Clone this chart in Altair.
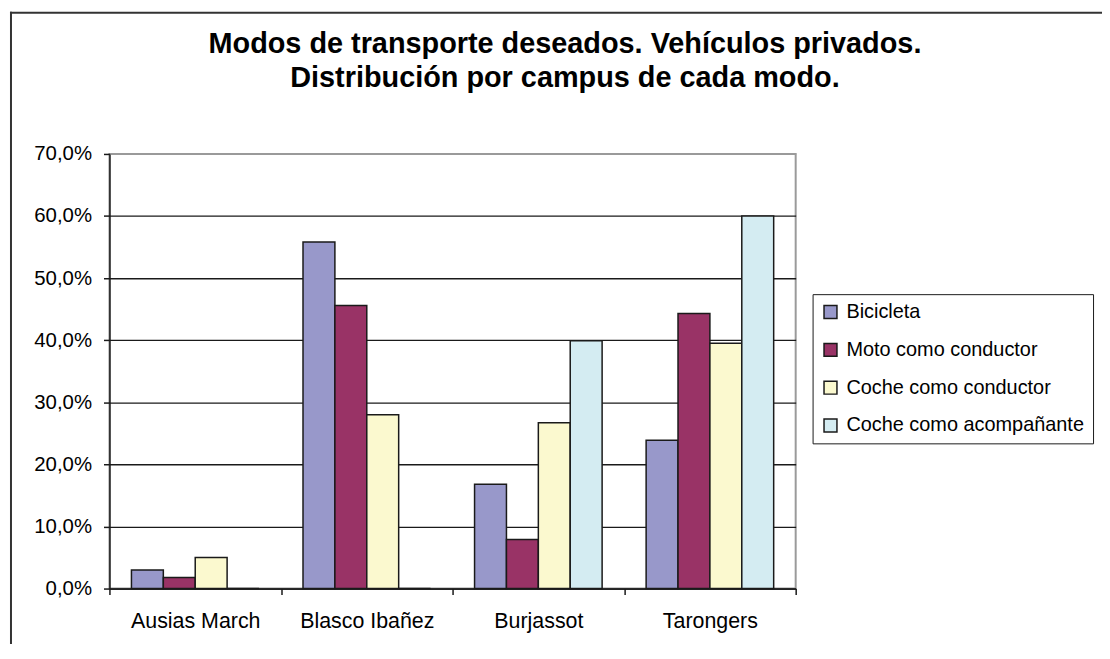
import altair as alt
import pandas as pd

# ---- data ----
campus = ["Ausias March", "Blasco Ibañez", "Burjassot", "Tarongers"]
series = ["Bicicleta", "Moto como conductor", "Coche como conductor", "Coche como acompañante"]
bicicleta = [3.0, 55.8, 16.8, 23.9]
moto_conductor = [1.8, 45.6, 7.9, 44.3]
coche_conductor = [5.0, 28.0, 26.7, 39.5]
coche_acompanante = [0.0, 0.0, 39.9, 60.0]
y_ticks = [0, 10, 20, 30, 40, 50, 60, 70]
colors = ["#9898CA", "#993366", "#FBF9CF", "#D4ECF2"]
title_lines = ["Modos de transporte deseados. Vehículos privados.",
               "Distribución por campus de cada modo."]

rows = []
for s, vals in zip(series, [bicicleta, moto_conductor, coche_conductor, coche_acompanante]):
    for c, v in zip(campus, vals):
        rows.append({"campus": c, "modo": s, "valor": v})
df = pd.DataFrame(rows)

W, H = 690, 437
FONT = "Liberation Sans"
DARK = "#1a1a1a"

bars = alt.Chart(df).mark_bar(stroke=DARK, strokeWidth=1.5).encode(
    x=alt.X("campus:N", sort=campus, title=None,
            scale=alt.Scale(paddingInner=0, paddingOuter=0),
            axis=alt.Axis(tickBand="extent", labelAngle=0, labelFontSize=21.5,
                          labelPadding=16, tickSize=6, tickColor=DARK, tickWidth=1.5,
                          domainColor=DARK, domainWidth=1.5, grid=False,
                          labelColor="black", labelFont=FONT)),
    xOffset=alt.XOffset("modo:N", sort=series,
                        scale=alt.Scale(paddingInner=0, paddingOuter=0.69)),
    y=alt.Y("valor:Q", title=None,
            scale=alt.Scale(domain=[0, 70], nice=False),
            axis=alt.Axis(values=y_ticks,
                          labelExpr="replace(format(datum.value, '.1f'), '.', ',') + '%'",
                          labelFontSize=20.5, labelPadding=12, tickSize=6,
                          tickColor=DARK, tickWidth=1.5, domainColor=DARK, domainWidth=1.5,
                          grid=True, gridWidth=1.3,
                          gridColor={"condition": {"test": "datum.value >= 70", "value": "#9a9a9a"},
                                     "value": DARK},
                          labelColor="black", labelFont=FONT)),
    color=alt.Color("modo:N", sort=series,
                    scale=alt.Scale(domain=series, range=colors),
                    legend=alt.Legend(title=None, orient="none", legendX=707, legendY=141,
                                      symbolType="square", symbolSize=169,
                                      symbolStrokeColor=DARK, symbolStrokeWidth=1.5,
                                      symbolOpacity=1, labelFontSize=20, labelFont=FONT,
                                      labelColor="black", labelOffset=6, rowPadding=18,
                                      labelLimit=400,
                                      padding=8, strokeColor=DARK, fillColor="white")),
)

one = pd.DataFrame({"k": [0]})
frame_top = alt.Chart(one).mark_rule(color="#333333", strokeWidth=2).encode(
    x=alt.value(-100), x2=alt.value(1000), y=alt.value(-142))
frame_left = alt.Chart(one).mark_rule(color="#333333", strokeWidth=2).encode(
    x=alt.value(-99), y=alt.value(-143), y2=alt.value(495))

chart = alt.layer(frame_top, frame_left, bars).properties(
    width=W, height=H,
    title=alt.TitleParams(text=title_lines, fontSize=29, fontWeight="bold", font=FONT,
                          anchor="middle", frame="group", dx=113, offset=-83,
                          lineHeight=35, color="black"),
    autosize=alt.AutoSizeParams(type="none"),
    padding={"left": 102, "top": 145, "right": 308, "bottom": 54},
).configure(font=FONT).configure_view(stroke="#9a9a9a", strokeWidth=2)

chart.save("out.html", embed_options={"renderer": "svg", "actions": False})
